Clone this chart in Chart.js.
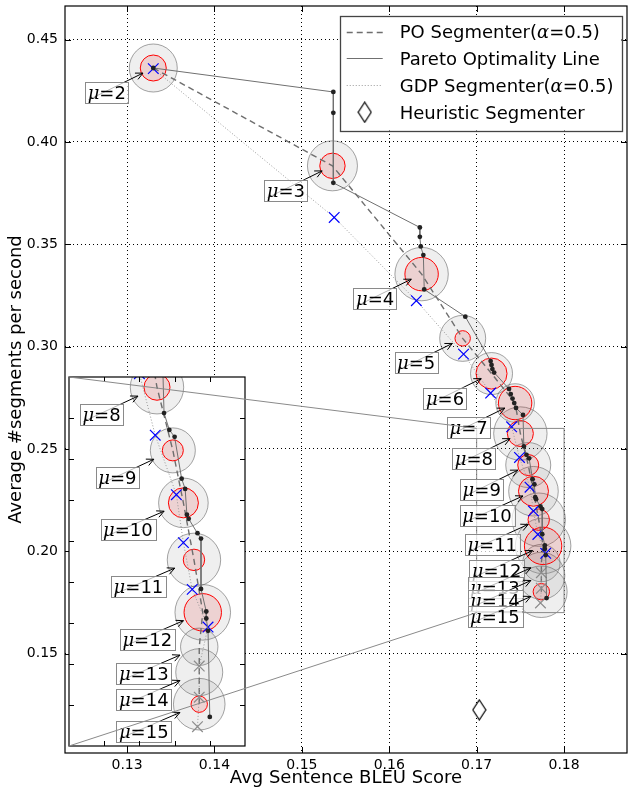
<!DOCTYPE html>
<html>
<head>
<meta charset="utf-8">
<script src="https://cdn.jsdelivr.net/npm/chart.js@4.4.1/dist/chart.umd.min.js"></script>
<style>
  body { margin: 0; background: #fff; }
  #wrap { position: relative; width: 629px; height: 789px; }
  #wrap canvas { position: absolute; left: 0; top: 0; }
  #inset { pointer-events: none; }
</style>
</head>
<body>
<div id="wrap">
  <canvas id="main" width="629" height="789"></canvas>
  <canvas id="inset" width="629" height="789"></canvas>
</div>
<script>
// ---- data ----
const muValues = [2, 3, 4, 5, 6, 7, 8, 9, 10, 11, 12, 13, 14, 15];
// PO segmenter (circle centres)
const poBleu = [0.1330, 0.1535, 0.1637, 0.1684, 0.1717, 0.1744, 0.1750, 0.1759, 0.1765, 0.1771, 0.1776, 0.1774, 0.1774, 0.1774];
const poSeg  = [0.4361, 0.3883, 0.3354, 0.3040, 0.2868, 0.2724, 0.2575, 0.2421, 0.2293, 0.2154, 0.2026, 0.1942, 0.1880, 0.1802];
// bubble radii (outer grey / inner red)
const outerSpread = [24, 25, 26.7, 23, 21, 19.3, 26.7, 22.5, 24.8, 26.7, 27.8, 18.7, 23.5, 25.8];
const innerSpread = [13, 12.7, 16.7, 7.7, 15.5, 16.7, 13, 10.5, 15, 10.7, 18.7, 0, 0, 8.2];
// GDP segmenter
const gdpBleu = [0.1330, 0.1537, 0.1631, 0.1685, 0.1716, 0.1740, 0.1749, 0.1761, 0.1765, 0.1770, 0.1779, 0.1774, 0.1774, 0.1773];
const gdpSeg  = [0.4358, 0.3631, 0.3224, 0.2963, 0.2773, 0.2608, 0.2458, 0.2313, 0.2196, 0.2082, 0.1990, 0.1895, 0.1819, 0.1747];
// Pareto optimality line
const paretoBleu = [0.1330, 0.1536, 0.1536, 0.1536, 0.1635, 0.1635, 0.1636, 0.1639, 0.1640, 0.1687,
                    0.1716, 0.1717, 0.1718, 0.1720, 0.1737, 0.1739, 0.1741, 0.1743, 0.1745, 0.1753,
                    0.1754, 0.1757, 0.1760, 0.1764, 0.1766, 0.1767, 0.1768, 0.1773, 0.1775, 0.1775,
                    0.1778, 0.1778, 0.1779, 0.1780];
const paretoSeg  = [0.4361, 0.4244, 0.4142, 0.3800, 0.3582, 0.3536, 0.3489, 0.3447, 0.3279, 0.3146,
                    0.2929, 0.2910, 0.2890, 0.2873, 0.2793, 0.2768, 0.2746, 0.2724, 0.2700, 0.2666,
                    0.2512, 0.2471, 0.2454, 0.2352, 0.2327, 0.2264, 0.2254, 0.2219, 0.2206, 0.2083,
                    0.2028, 0.2011, 0.1981, 0.1771];
// heuristic segmenter
const heuristicBleu = [0.1703];
const heuristicSeg  = [0.1225];

const xTicks = [0.13, 0.14, 0.15, 0.16, 0.17, 0.18];
const yTicks = [0.15, 0.20, 0.25, 0.30, 0.35, 0.40, 0.45];
const insetXTicks = [0.172, 0.174, 0.176, 0.178];
const insetYTicks = [0.18, 0.19, 0.20, 0.21, 0.22, 0.23, 0.24, 0.25];
const xRange = [0.1229, 0.1872];
const yRange = [0.1014, 0.4664];
const zoomX = [0.170, 0.180];
const zoomY = [0.170, 0.260];

const legendLabels = ['PO Segmenter(', 'Pareto Optimality Line', 'GDP Segmenter(', 'Heuristic Segmenter'];

Chart.defaults.font.family = '"DejaVu Sans", sans-serif';
Chart.defaults.color = '#000';

const SANS = '18px "DejaVu Sans"';
const MATH = 'italic 18px "DejaVu Serif"';

function pts(xs, ys, rs) {
  return xs.map((x, i) => rs ? {x: x, y: ys[i], r: rs[i]} : {x: x, y: ys[i]});
}

function thinDiamond(w, h) {
  const c = document.createElement('canvas');
  c.width = w + 2; c.height = h + 2;
  const g = c.getContext('2d');
  g.beginPath();
  g.moveTo(c.width / 2, 1);
  g.lineTo(c.width - 1, c.height / 2);
  g.lineTo(c.width / 2, c.height - 1);
  g.lineTo(1, c.height / 2);
  g.closePath();
  g.fillStyle = '#fff'; g.fill();
  g.strokeStyle = '#000'; g.lineWidth = 1.2; g.stroke();
  return c;
}
const diamond = thinDiamond(13, 20);

function buildDatasets(clip) {
  return [
    { type: 'bubble', data: pts(poBleu, poSeg, outerSpread),
      backgroundColor: 'rgba(128,128,128,0.13)', borderColor: 'rgba(90,90,90,0.55)', borderWidth: 1, order: 6, clip: clip },
    { type: 'bubble', data: pts(poBleu, poSeg, innerSpread),
      backgroundColor: 'rgba(225,0,0,0.12)', borderColor: '#ff0000', borderWidth: 1, order: 5, clip: clip },
    { data: pts(poBleu, poSeg), showLine: true, borderColor: '#6e6e6e', borderWidth: 1.4, borderDash: [6, 4],
      pointRadius: 0, order: 4, clip: clip },
    { data: pts(gdpBleu, gdpSeg), showLine: true, borderColor: '#9a9a9a', borderWidth: 1, borderDash: [1, 2],
      pointStyle: 'crossRot', pointRadius: 7.5, pointBorderWidth: 1.2,
      pointBorderColor: muValues.map(m => m > 12 ? '#8c8c8c' : '#0000ff'), order: 3, clip: clip },
    { data: pts(paretoBleu, paretoSeg), showLine: true, borderColor: '#707070', borderWidth: 1,
      pointRadius: 2.4, pointBackgroundColor: '#222', pointBorderWidth: 0, order: 2, clip: clip },
    { data: pts(heuristicBleu, heuristicSeg), pointStyle: diamond, pointRadius: 10, order: 1, clip: clip }
  ];
}

function drawRich(ctx, parts, x, y) {
  parts.forEach(p => {
    ctx.font = p.f;
    ctx.fillText(p.t, x, y);
    x += ctx.measureText(p.t).width;
  });
}
function richWidth(ctx, parts) {
  return parts.reduce((s, p) => { ctx.font = p.f; return s + ctx.measureText(p.t).width; }, 0);
}

// frame + inward ticks
const framePlugin = {
  id: 'frame',
  afterDraw(chart, args, o) {
    const {ctx, chartArea: a, scales: {x, y}} = chart;
    ctx.save();
    ctx.strokeStyle = '#000';
    ctx.lineWidth = 1;
    ctx.beginPath();
    o.xt.forEach(v => {
      const p = Math.round(x.getPixelForValue(v)) + 0.5;
      ctx.moveTo(p, a.bottom); ctx.lineTo(p, a.bottom - o.len);
      ctx.moveTo(p, a.top); ctx.lineTo(p, a.top + o.len);
    });
    o.yt.forEach(v => {
      const p = Math.round(y.getPixelForValue(v)) + 0.5;
      ctx.moveTo(a.left, p); ctx.lineTo(a.left + o.len, p);
      ctx.moveTo(a.right, p); ctx.lineTo(a.right - o.len, p);
    });
    ctx.stroke();
    ctx.lineWidth = o.width;
    ctx.strokeRect(a.left, a.top, a.width, a.height);
    ctx.restore();
  }
};

// mu annotations with arrows
function drawArrow(ctx, x0, y0, x1, y1) {
  const ang = Math.atan2(y1 - y0, x1 - x0);
  ctx.beginPath();
  ctx.moveTo(x0, y0); ctx.lineTo(x1, y1);
  ctx.moveTo(x1 - 8 * Math.cos(ang - 0.45), y1 - 8 * Math.sin(ang - 0.45));
  ctx.lineTo(x1, y1);
  ctx.lineTo(x1 - 8 * Math.cos(ang + 0.45), y1 - 8 * Math.sin(ang + 0.45));
  ctx.stroke();
}

const muPlugin = {
  id: 'muLabels',
  afterDatasetsDraw(chart, args, o) {
    const {ctx, chartArea: a, scales: {x, y}} = chart;
    ctx.save();
    ctx.beginPath(); ctx.rect(a.left, a.top, a.width, a.height); ctx.clip();
    ctx.textBaseline = 'alphabetic';
    muValues.forEach((m, i) => {
      const px = x.getPixelForValue(poBleu[i]), py = y.getPixelForValue(poSeg[i]);
      const parts = [{t: '\u03bc', f: MATH}, {t: '=' + m, f: SANS}];
      const bw = richWidth(ctx, parts) + 5, bh = 21;
      const cx = px + o.dx, cy = py + o.dy;
      const bx = cx - bw / 2, by = cy - bh / 2;
      const sx = bx + 3, sy = by + bh - 3;
      const d = Math.hypot(px - sx, py - sy);
      const tx = px - (px - sx) / d * o.shrink, ty = py - (py - sy) / d * o.shrink;
      ctx.strokeStyle = '#000'; ctx.lineWidth = 1;
      drawArrow(ctx, sx, sy, tx, ty);
      ctx.fillStyle = 'rgba(255,255,255,0.72)';
      ctx.fillRect(bx, by, bw, bh);
      ctx.strokeStyle = '#8a8a8a';
      ctx.strokeRect(Math.round(bx) + 0.5, Math.round(by) + 0.5, Math.round(bw), bh);
      ctx.fillStyle = '#000';
      drawRich(ctx, parts, bx + 2.5, cy + 6.5);
    });
    ctx.restore();
  }
};

// zoom rectangle on the main axes
const zoomRectPlugin = {
  id: 'zoomRect',
  afterDatasetsDraw(chart) {
    const {ctx, scales: {x, y}} = chart;
    const l = x.getPixelForValue(zoomX[0]), r = x.getPixelForValue(zoomX[1]);
    const t = y.getPixelForValue(zoomY[1]), b = y.getPixelForValue(zoomY[0]);
    ctx.save();
    ctx.strokeStyle = '#8a8a8a'; ctx.lineWidth = 1;
    ctx.strokeRect(l, t, r - l, b - t);
    ctx.restore();
  }
};

// legend box
const legendPlugin = {
  id: 'legendBox',
  afterDraw(chart) {
    const {ctx, chartArea: a} = chart;
    const rows = [
      [{t: legendLabels[0], f: SANS}, {t: '\u03b1', f: MATH}, {t: '=0.5)', f: SANS}],
      [{t: legendLabels[1], f: SANS}],
      [{t: legendLabels[2], f: SANS}, {t: '\u03b1', f: MATH}, {t: '=0.5)', f: SANS}],
      [{t: legendLabels[3], f: SANS}]
    ];
    const tw = Math.max(...rows.map(r => richWidth(ctx, r)));
    const right = a.right - 5.5, top = a.top + 9.5;
    const w = 60 + tw + 8, h = 115;
    const left = right - w;
    ctx.save();
    ctx.fillStyle = '#fff';
    ctx.fillRect(left, top, w, h);
    ctx.strokeStyle = '#444'; ctx.lineWidth = 1.3;
    ctx.strokeRect(Math.round(left) + 0.5, Math.round(top) + 0.5, Math.round(w), h);
    const ds = chart.data.datasets;
    const styles = [ds[2], ds[4], ds[3]];
    rows.forEach((r, i) => {
      const cy = top + 16 + i * 26.9;
      if (i < 3) {
        const s = styles[i];
        ctx.strokeStyle = s.borderColor; ctx.lineWidth = s.borderWidth;
        ctx.setLineDash(s.borderDash || []);
        ctx.beginPath(); ctx.moveTo(left + 7, Math.round(cy) + 0.5); ctx.lineTo(left + 43, Math.round(cy) + 0.5); ctx.stroke();
        ctx.setLineDash([]);
      } else {
        ctx.drawImage(diamond, left + 25 - diamond.width / 2, cy - diamond.height / 2);
      }
      ctx.fillStyle = '#000';
      drawRich(ctx, r, left + 60, cy + 6.5);
    });
    ctx.restore();
  }
};

const mainChart = new Chart(document.getElementById('main'), {
  type: 'scatter',
  data: { datasets: buildDatasets(false) },
  plugins: [zoomRectPlugin, muPlugin, framePlugin, legendPlugin],
  options: {
    responsive: false,
    animation: false,
    events: [],
    layout: { autoPadding: false, padding: { top: 6, right: 2, left: 0, bottom: 0 } },
    plugins: {
      legend: { display: false },
      tooltip: { enabled: false },
      frame: { xt: xTicks, yt: yTicks, len: 6, width: 1.2 },
      muLabels: { dx: -46.5, dy: 24.5, shrink: 11.5 }
    },
    scales: {
      x: {
        type: 'linear', min: xRange[0], max: xRange[1],
        afterBuildTicks: s => { s.ticks = xTicks.map(v => ({value: v})); },
        afterFit: s => { s.height = 36; s.paddingLeft = 0; s.paddingRight = 0; },
        ticks: { callback: v => v.toFixed(2), font: { size: 14 }, padding: 4, maxRotation: 0, autoSkip: false },
        grid: { color: '#000', lineWidth: 1, drawTicks: false },
        border: { display: false, dash: [1, 3] },
        title: { display: true, text: 'Avg Sentence BLEU Score', font: { size: 18 }, padding: 0 }
      },
      y: {
        type: 'linear', min: yRange[0], max: yRange[1],
        afterBuildTicks: s => { s.ticks = yTicks.map(v => ({value: v})); },
        afterFit: s => { s.width = 65; s.paddingTop = 0; s.paddingBottom = 0; },
        ticks: { callback: v => v.toFixed(2), font: { size: 14 }, padding: 7, autoSkip: false },
        grid: { color: '#000', lineWidth: 1, drawTicks: false },
        border: { display: false, dash: [1, 3] },
        title: { display: true, text: 'Average #segments per second', font: { size: 18 }, padding: { top: 6, bottom: 0 } }
      }
    }
  }
});

// inset: white background + connector lines
const insetBg = {
  id: 'insetBg',
  beforeDatasetsDraw(chart) {
    const {ctx, chartArea: a} = chart;
    ctx.save(); ctx.fillStyle = '#fff'; ctx.fillRect(a.left, a.top, a.width, a.height); ctx.restore();
  }
};
const connectors = {
  id: 'connectors',
  afterDraw(chart) {
    const {ctx, chartArea: a} = chart;
    const mx = mainChart.scales.x, my = mainChart.scales.y;
    const l = mx.getPixelForValue(zoomX[0]);
    ctx.save();
    ctx.strokeStyle = '#8a8a8a'; ctx.lineWidth = 1;
    ctx.beginPath();
    ctx.moveTo(a.left, a.top); ctx.lineTo(l, my.getPixelForValue(zoomY[1]));
    ctx.moveTo(a.left, a.bottom); ctx.lineTo(l, my.getPixelForValue(zoomY[0]));
    ctx.stroke();
    ctx.restore();
  }
};

new Chart(document.getElementById('inset'), {
  type: 'scatter',
  data: { datasets: buildDatasets(0) },
  plugins: [insetBg, muPlugin, framePlugin, connectors],
  options: {
    responsive: false,
    animation: false,
    events: [],
    layout: { autoPadding: false, padding: { left: 69, top: 377, right: 384, bottom: 43 } },
    plugins: {
      legend: { display: false },
      tooltip: { enabled: false },
      frame: { xt: insetXTicks, yt: insetYTicks, len: 5, width: 1.2 },
      muLabels: { dx: -55.5, dy: 27, shrink: 21 }
    },
    scales: {
      x: { type: 'linear', min: zoomX[0], max: zoomX[1], display: false },
      y: { type: 'linear', min: zoomY[0], max: zoomY[1], display: false }
    }
  }
});
</script>
</body>
</html>
